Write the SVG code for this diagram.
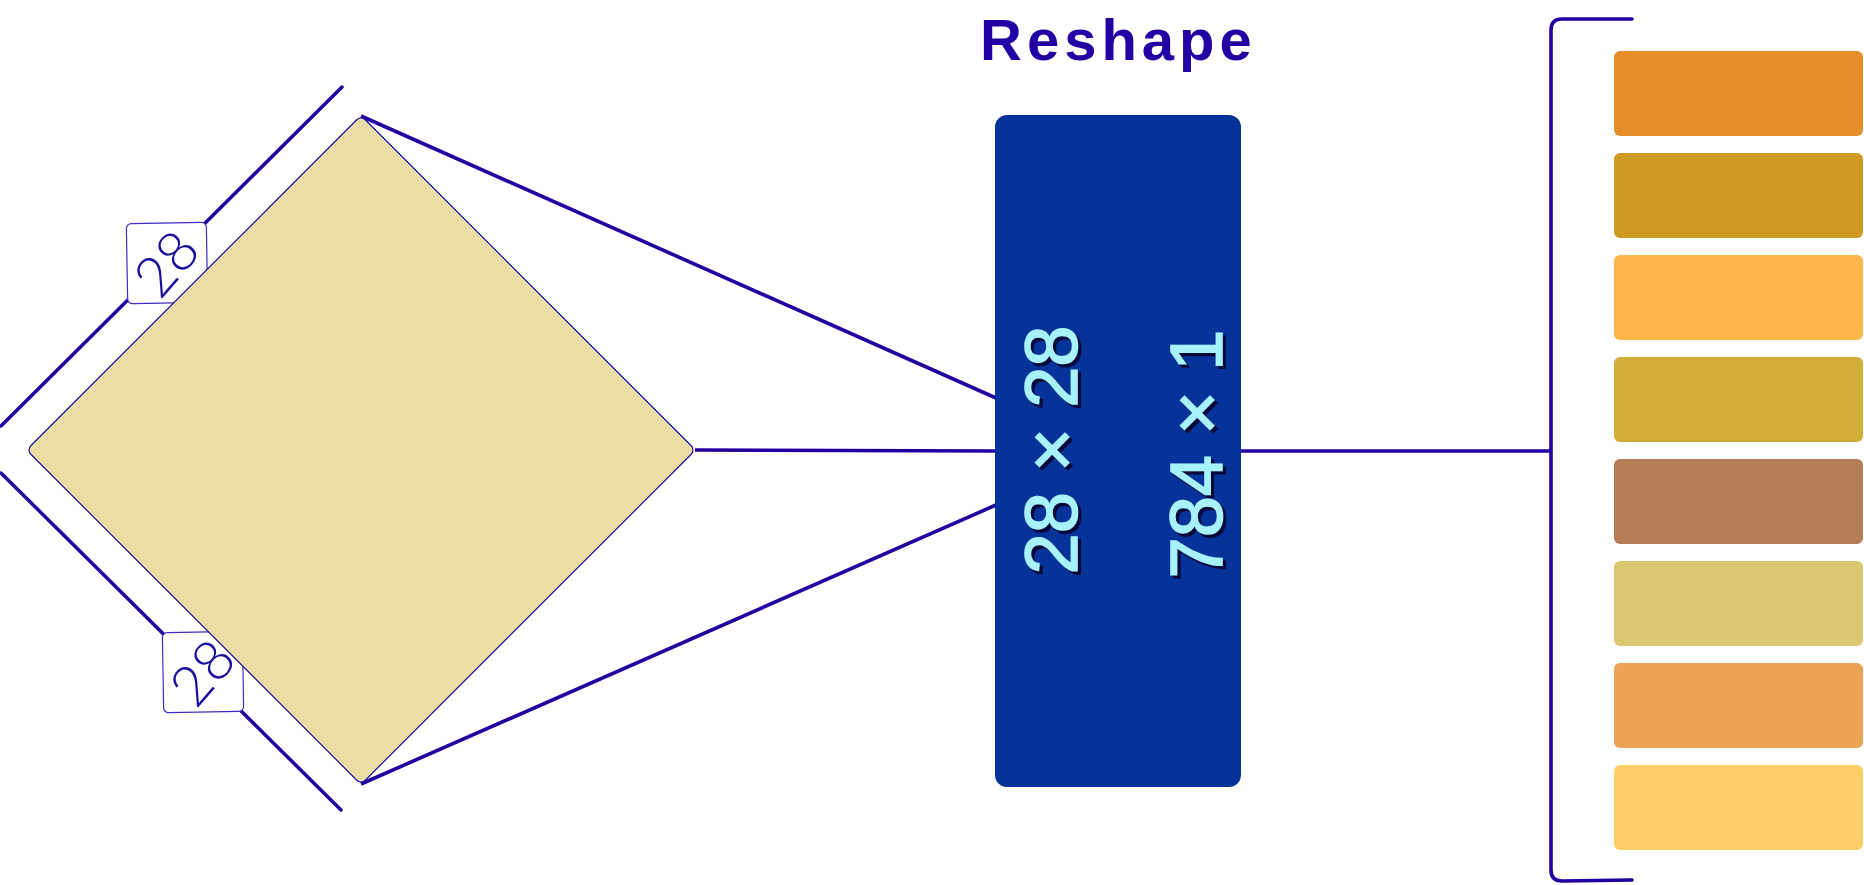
<svg xmlns="http://www.w3.org/2000/svg" width="1864" height="885" viewBox="0 0 1864 885">
  <style>
    .edge { stroke: #2200a0; stroke-width: 3.5; fill: none; stroke-linecap: round; }
    .conn { stroke: #2200a0; stroke-width: 3.6; fill: none; }
    .lbox { fill: #ffffff; stroke: #3a2fc0; stroke-width: 1.2; }
    .ltxt { font-family: Lato, "DejaVu Sans", sans-serif; font-weight: 300; font-size: 56px; fill: #1a0f9c; text-anchor: middle; }
    .dim { font-family: "Liberation Sans", Arial, sans-serif; font-size: 74px; text-anchor: middle; }
    .dimsh { fill: #0a0a3a; stroke: #0a0a3a; stroke-width: 2; }
    .dimfg { fill: #a8f2fb; stroke: #a8f2fb; stroke-width: 1.6; }
    .bar { stroke: none; }
    .title { font-family: "Liberation Sans", Arial, sans-serif; font-weight: bold; font-size: 58px; fill: #2300a3; letter-spacing: 5px; }
  </style>
  <rect width="1864" height="885" fill="#ffffff"/>

  <g id="title">
    <text class="title" x="980" y="60">Reshape</text>
  </g>

  <g id="dimension-lines">
    <line class="edge" x1="342" y1="87" x2="1" y2="426"/>
    <line class="edge" x1="1" y1="473" x2="341" y2="810"/>
  </g>

  <g id="label-top">
    <rect class="lbox" x="127" y="223" width="80" height="80" rx="5" transform="rotate(-1 167 263)"/>
    <text class="ltxt" transform="translate(167 264) rotate(-49)" x="0" y="19">28</text>
  </g>
  <g id="label-bottom">
    <rect class="lbox" x="163" y="632" width="80" height="80" rx="5" transform="rotate(-1 203 672)"/>
    <text class="ltxt" transform="translate(203 673) rotate(-49)" x="0" y="19">28</text>
  </g>

  <g id="connectors">
    <line class="conn" x1="361" y1="116" x2="996" y2="398"/>
    <line class="conn" x1="695" y1="450" x2="996" y2="451"/>
    <line class="conn" x1="361" y1="784" x2="996" y2="505"/>
    <line class="conn" x1="1240" y1="451" x2="1551" y2="451"/>
  </g>

  <g id="image">
    <rect x="-236.5" y="-236.5" width="473" height="473" rx="6" fill="#ecdca6" stroke="#1a10a0" stroke-width="1.2" transform="translate(361 450) rotate(45)"/>
  </g>

  <g id="reshape-block">
    <rect x="995" y="115" width="246" height="672" rx="12" fill="#06339a"/>
    <g transform="translate(1077 450) rotate(-90)">
      <text class="dim dimsh" x="-3" y="3">28 × 28</text>
      <text class="dim dimfg" x="0" y="0">28 × 28</text>
    </g>
    <g transform="translate(1222 454) rotate(-90)">
      <text class="dim dimsh" x="-3" y="3">784 × 1</text>
      <text class="dim dimfg" x="0" y="0">784 × 1</text>
    </g>
  </g>

  <g id="bracket">
    <path class="conn" d="M1632 19 H1562 Q1551 19 1551 30 V870 Q1551 881 1562 881 L1632 880" stroke-width="3.6" stroke-linecap="round"/>
  </g>

  <g id="vector">
    <rect class="bar" x="1614" y="51" width="249" height="85" rx="6" fill="#e68e2c"/>
    <rect class="bar" x="1614" y="153" width="249" height="85" rx="6" fill="#ce9a22"/>
    <rect class="bar" x="1614" y="255" width="249" height="85" rx="6" fill="#ffb54c"/>
    <rect class="bar" x="1614" y="357" width="249" height="85" rx="6" fill="#d2ad3a"/>
    <rect class="bar" x="1614" y="459" width="249" height="85" rx="6" fill="#b57d55"/>
    <rect class="bar" x="1614" y="561" width="249" height="85" rx="6" fill="#dac870"/>
    <rect class="bar" x="1614" y="663" width="249" height="85" rx="6" fill="#eba455"/>
    <rect class="bar" x="1614" y="765" width="249" height="85" rx="6" fill="#ffce66"/>
  </g>
</svg>
